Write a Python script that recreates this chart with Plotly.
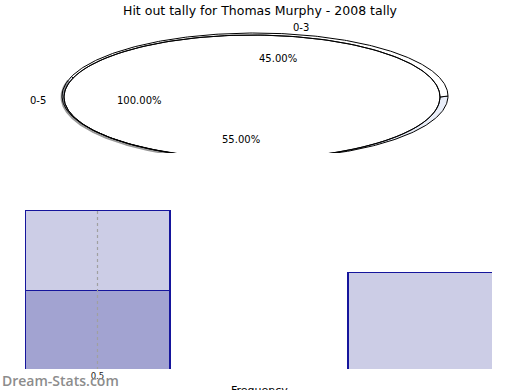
import numpy as np
import plotly.graph_objects as go

# ---------------- data ----------------
chart_title = "Hit out tally for Thomas Murphy - 2008 tally"
pie_labels = ["0-3", "0-5"]
pie_values = [45, 55]
pie_pct_text = ["45.00%", "55.00%"]
outer_label = "0-5"
outer_pct_text = "100.00%"

bar_x = [0.5, 1.5]
bar_dark = [45, 0]
bar_light = [45, 55]
tick_vals = [0.5]
tick_text = ["0.5"]
x_title = "Frequency"
watermark = "Dream-Stats.com"

FONT = "DejaVu Sans"
W, H = 520, 390

# ---------------- pie geometry (style) ----------------
INNER = dict(cx=252, cy=97, rx=188, ry=62)
OUTER = dict(cx=255, cy=96, rx=193, ry=63)


def arc(e, a0, a1, n=240):
    t = np.radians(np.linspace(a0, a1, n))
    return e["cx"] + e["rx"] * np.cos(t), e["cy"] - e["ry"] * np.sin(t)


total = float(sum(pie_values))
bounds = [0.0]
for v in pie_values:
    bounds.append(bounds[-1] + 360.0 * v / total)

fig = go.Figure()

pie_axes = dict(xaxis="x2", yaxis="y2")

# slice 2 band (right/bottom, light blue)
a0, a1 = bounds[1], bounds[2]
ox, oy = arc(OUTER, a0, a1)
ix, iy = arc(INNER, a1, a0)
fig.add_trace(go.Scatter(x=np.concatenate([ox, ix, ox[:1]]), y=np.concatenate([oy, iy, oy[:1]]),
                         mode="lines", fill="toself", fillcolor="#e9eef9",
                         line=dict(color="black", width=1), hoverinfo="skip", showlegend=False, **pie_axes))
# grey shading on the left side of slice 2
gx, gy = arc(dict(cx=253, cy=97, rx=191, ry=63), a0 + 3, a0 + 95)
fig.add_trace(go.Scatter(x=gx, y=gy, mode="lines", line=dict(color="rgba(0,0,0,0.4)", width=3),
                         hoverinfo="skip", showlegend=False, **pie_axes))

# slice 1 band (top, white)
a0, a1 = bounds[0], bounds[1]
ox, oy = arc(OUTER, a0, a1)
ix, iy = arc(INNER, a1, a0)
fig.add_trace(go.Scatter(x=np.concatenate([ox, ix, ox[:1]]), y=np.concatenate([oy, iy, oy[:1]]),
                         mode="lines", fill="toself", fillcolor="white",
                         line=dict(color="black", width=1), hoverinfo="skip", showlegend=False, **pie_axes))

# top face outline
fx, fy = arc(INNER, 0, 360, 400)
fig.add_trace(go.Scatter(x=fx, y=fy, mode="lines", line=dict(color="black", width=1),
                         hoverinfo="skip", showlegend=False, **pie_axes))

# ---------------- bars ----------------
bar_line = dict(color="#15159c", width=1.2)
fig.add_trace(go.Bar(x=bar_x, y=bar_dark, width=0.449, marker=dict(color="#a2a3d1", line=bar_line),
                     showlegend=False, xaxis="x", yaxis="y"))
fig.add_trace(go.Bar(x=bar_x, y=bar_light, width=0.449, marker=dict(color="#cccde6", line=bar_line),
                     showlegend=False, xaxis="x", yaxis="y"))

y_top = max(d + l for d, l in zip(bar_dark, bar_light))

shapes = [dict(type="line", xref="x", yref="y", x0=tv, x1=tv, y0=0, y1=y_top,
               line=dict(color="#a0a0a0", width=1.2, dash="dot"), layer="above") for tv in tick_vals]

# ---------------- annotations ----------------
ann = [
    dict(text=chart_title, x=0.5, y=1 - 10 / H, xref="paper", yref="paper", showarrow=False,
         font=dict(size=12.5, color="black", family=FONT), xanchor="center", yanchor="middle"),
    dict(text=pie_labels[0], x=301, y=27, xref="x2", yref="y2", showarrow=False,
         font=dict(size=10, color="black", family=FONT)),
    dict(text=pie_pct_text[0], x=278, y=58, xref="x2", yref="y2", showarrow=False,
         font=dict(size=10, color="black", family=FONT)),
    dict(text=outer_label, x=38, y=100, xref="x2", yref="y2", showarrow=False,
         font=dict(size=10, color="black", family=FONT)),
    dict(text=outer_pct_text, x=139, y=100, xref="x2", yref="y2", showarrow=False,
         font=dict(size=10, color="black", family=FONT)),
    dict(text=pie_pct_text[1], x=241, y=139, xref="x2", yref="y2", showarrow=False,
         font=dict(size=10, color="black", family=FONT)),
    dict(text=x_title, x=259 / W, y=(H - 390) / H, xref="paper", yref="paper", showarrow=False,
         xanchor="center", yanchor="middle", font=dict(size=11, color="black", family=FONT)),
    dict(text=watermark, x=0, y=(H - 380) / H, xref="paper", yref="paper",
         showarrow=False, xanchor="left", yanchor="middle",
         font=dict(size=14, color="#8c8c8c", family="Open Sans", weight=600)),
]

fig.update_layout(
    width=W, height=H, margin=dict(l=0, r=0, t=0, b=0),
    paper_bgcolor="white", plot_bgcolor="rgba(0,0,0,0)",
    barmode="stack", bargap=0,
    font=dict(family=FONT, color="black"),
    shapes=shapes, annotations=ann,
    xaxis=dict(domain=[25 / W, 492 / W], range=[0.2755, 1.7215], tickvals=tick_vals, ticktext=tick_text,
               showgrid=False, zeroline=False, showline=False, ticks="", tickfont=dict(size=8.5, color="#222"),
               anchor="y", fixedrange=True),
    yaxis=dict(domain=[(H - 369) / H, (H - 209) / H], range=[0.6, y_top + 0.8], visible=False, fixedrange=True),
    xaxis2=dict(domain=[0, 1], range=[0, W], visible=False, anchor="y2", fixedrange=True),
    yaxis2=dict(domain=[(H - 153) / H, 1], range=[153, 0], visible=False, anchor="x2", fixedrange=True),
)

fig.write_html("out.html", config={"displayModeBar": False, "staticPlot": True},
               post_script="document.body.style.margin='0';document.body.style.padding='0';"
                           "document.body.style.overflow='hidden';")
